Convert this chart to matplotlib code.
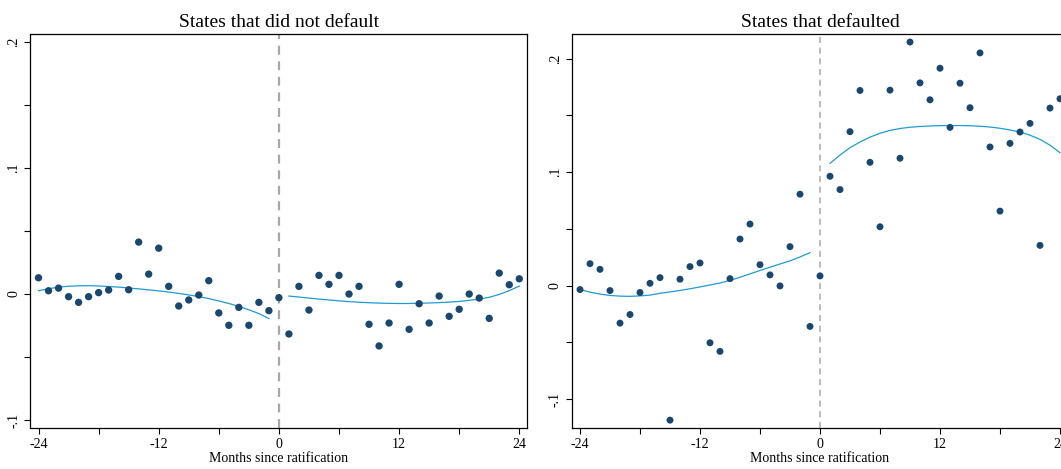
import matplotlib
matplotlib.use("Agg")
import matplotlib.pyplot as plt

plt.rcParams['font.family'] = ['Liberation Serif', 'DejaVu Serif']

# months relative to ratification
months = list(range(-24, 25))
months_pre = list(range(-24, 0))
months_post = list(range(1, 25))

# monthly means, states that did not default
nodefault = [0.0129, 0.0026, 0.0047, -0.0021, -0.0066, -0.0021, 0.0011, 0.0032,
             0.0140, 0.0034, 0.0412, 0.0158, 0.0364, 0.0061, -0.0095, -0.0047,
             -0.0008, 0.0106, -0.0150, -0.0248, -0.0106, -0.0248, -0.0066, -0.0132,
             -0.0029,
             -0.0317, 0.0061, -0.0127, 0.0148, 0.0077, 0.0148, 0.0000, 0.0061,
             -0.0240, -0.0412, -0.0230, 0.0077, -0.0280, -0.0077, -0.0230, -0.0016,
             -0.0177, -0.0121, 0.0000, -0.0032, -0.0193, 0.0166, 0.0074, 0.0121]

# monthly means, states that defaulted
defaulted = [-0.0035, 0.0193, 0.0143, -0.0044, -0.0331, -0.0255, -0.0061, 0.0020,
             0.0070, -0.1186, 0.0056, 0.0167, 0.0199, -0.0504, -0.0580, 0.0061,
             0.0410, 0.0542, 0.0184, 0.0094, -0.0003, 0.0343, 0.0805, -0.0360,
             0.0085,
             0.0963, 0.0846, 0.1356, 0.1719, 0.1086, 0.0518, 0.1722, 0.1122,
             0.2146, 0.1786, 0.1637, 0.1915, 0.1394, 0.1783, 0.1567, 0.2050,
             0.1221, 0.0656, 0.1253, 0.1353, 0.1429, 0.0354, 0.1564, 0.1646]

# smoothed fits on each side of the cutoff
nd_fit_pre = [0.0026, 0.0042, 0.0055, 0.0062, 0.0065, 0.0066, 0.0064, 0.0060,
              0.0055, 0.0048, 0.0041, 0.0033, 0.0025, 0.0016, 0.0005, -0.0007,
              -0.0020, -0.0036, -0.0055, -0.0075, -0.0098, -0.0125, -0.0155, -0.0195]
nd_fit_post = [-0.0016, -0.0024, -0.0032, -0.0040, -0.0047, -0.0054, -0.0060, -0.0065,
               -0.0069, -0.0072, -0.0074, -0.0075, -0.0075, -0.0073, -0.0071, -0.0068,
               -0.0064, -0.0059, -0.0050, -0.0040, -0.0026, -0.0003, 0.0027, 0.0063]
d_fit_pre = [-0.0035, -0.0058, -0.0075, -0.0087, -0.0093, -0.0095, -0.0091, -0.0084,
             -0.0068, -0.0056, -0.0043, -0.0028, -0.0012, 0.0005, 0.0023, 0.0045,
             0.0073, 0.0103, 0.0133, 0.0162, 0.0190, 0.0218, 0.0252, 0.0290]
d_fit_post = [0.1077, 0.1150, 0.1215, 0.1265, 0.1308, 0.1342, 0.1367, 0.1384,
              0.1395, 0.1402, 0.1406, 0.1409, 0.1410, 0.1410, 0.1408, 0.1404,
              0.1397, 0.1386, 0.1371, 0.1352, 0.1325, 0.1288, 0.1237, 0.1171]

xticks = [-24, -18, -12, -6, 0, 6, 12, 18, 24]
xticklabels = ['-24', '', '-12', '', '0', '', '12', '', '24']
yticks = [-0.1, -0.05, 0, 0.05, 0.1, 0.15, 0.2]
yticklabels = ['-.1', '', '0', '', '.1', '', '.2']

dot_color = '#1a476f'
fit_color = '#1f9bd1'

W, H = 1061, 469
fig = plt.figure(figsize=(W / 100, H / 100), dpi=100)

ax1 = fig.add_axes([30.2 / W, 41 / H, 497.1 / W, 393.7 / H])
ax2 = fig.add_axes([571.5 / W, 41 / H, 497.0 / W, 393.7 / H])

panels = [
    (ax1, nodefault, nd_fit_pre, nd_fit_post, 'States that did not default',
     (-24.83, 24.8), (-0.1063, 0.2061), 1.6, 28),
    (ax2, defaulted, d_fit_pre, d_fit_post, 'States that defaulted',
     (-24.85, 24.85), (-0.1255, 0.2214), 1.1, 25),
]

for ax, vals, fit_pre, fit_post, title, xlim, ylim, vlw, ms in panels:
    ax.axvline(0, color='#a8a8a8', lw=vlw, ls=(0, (4, 3)), zorder=1)
    ax.scatter(months, vals, s=ms, color=dot_color, edgecolors='none', zorder=3)
    ax.plot(months_pre, fit_pre, color=fit_color, lw=0.9, zorder=2)
    ax.plot(months_post, fit_post, color=fit_color, lw=0.9, zorder=2)

    ax.set_xlim(*xlim)
    ax.set_ylim(*ylim)
    ax.set_xticks(xticks)
    ax.set_xticklabels(xticklabels)
    ax.set_yticks(yticks)
    ax.set_yticklabels(yticklabels, rotation=90, va='center')
    ax.tick_params(length=4, width=0.8, labelsize=10, pad=3)
    for sp in ax.spines.values():
        sp.set_linewidth(0.9)
    ax.set_title(title, fontsize=14, pad=5)
    ax.set_xlabel('Months since ratification', fontsize=10, labelpad=1)

fig.savefig('out.png', dpi=100)
